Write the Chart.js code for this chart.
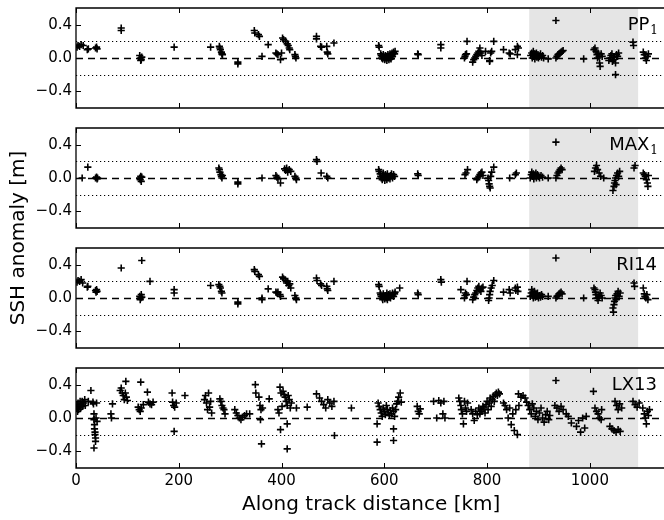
<!DOCTYPE html>
<html>
<head>
<meta charset="utf-8">
<script src="https://cdn.jsdelivr.net/npm/chart.js@4.4.1/dist/chart.umd.min.js"></script>
<style>
  body { margin: 0; background: #fff; overflow: hidden; }
  #wrap { position: relative; width: 664px; height: 520px; overflow: hidden; }
  #wrap canvas { position: absolute; left: 0; top: 0; }
</style>
</head>
<body>
<div id="wrap">
  <canvas id="c0" width="672" height="520"></canvas>
  <canvas id="c1" width="672" height="520"></canvas>
  <canvas id="c2" width="672" height="520"></canvas>
  <canvas id="c3" width="672" height="520"></canvas>
</div>
<script>
// axis settings
const xMax = 1149;
const xTicks = [0, 200, 400, 600, 800, 1000];
const yTicks = [-0.4, 0, 0.4];
const refLevels = [-0.2, 0.2];
const shadeRange = [882, 1094];
const panelNames = ['PP', 'MAX', 'RI14', 'LX13'];
const panelSubs = ['1', '1', '', ''];

// [along track distance km, SSH anomaly m]
const pp1 = [[2,0.13],[4,0.15],[7,0.14],[10,0.16],[14,0.15],[22,0.10],[24,0.11],[38,0.12],[40,0.13],[41,0.11],
  [88,0.36],[88,0.33],[124,0.03],[126,0.0],[127,-0.02],[128,0.01],[126,-0.03],[191,0.13],[262,0.13],
  [279,0.14],[280,0.12],[281,0.10],[283,0.07],[284,0.05],[285,0.04],[315,-0.05],[315,-0.07],
  [347,0.33],[348,0.30],[355,0.28],[357,0.26],[362,0.02],[374,0.16],[389,0.06],[391,0.05],[393,0.04],[398,-0.02],[400,0.06],
  [402,0.24],[404,0.22],[408,0.20],[411,0.17],[413,0.15],[415,0.12],[416,0.10],[426,0.04],[427,0.02],[428,0.0],
  [468,0.26],[468,0.23],[476,0.14],[478,0.13],[488,0.14],[489,0.07],[490,0.05],[502,0.18],
  [589,0.15],[590,0.13],[593,0.05],[594,0.03],[595,0.0],[596,0.02],[597,-0.01],[598,0.04],[600,0.01],[601,-0.02],
  [602,0.03],[603,0.0],[604,0.02],[605,-0.03],[606,0.01],[607,0.04],[608,0.0],[609,-0.02],[610,0.02],[611,0.05],
  [612,0.0],[613,-0.01],[614,0.03],[615,0.06],[616,0.02],[618,0.07],[620,0.05],[621,0.08],
  [665,0.05],[666,0.04],[710,0.16],[710,0.12],[756,0.0],[757,0.02],[758,0.04],[760,0.05],[761,0.2],
  [772,-0.05],[774,-0.02],[776,0.0],[778,0.02],[780,0.04],[782,0.06],[784,0.08],[786,0.12],[788,0.06],[790,0.03],
  [797,0.08],[805,-0.03],[805,-0.04],[807,0.06],[809,0.08],[813,0.2],[832,0.10],[843,0.06],[845,0.05],
  [855,0.10],[859,0.04],[859,0.14],[861,0.12],
  [885,0.03],[887,0.06],[888,0.0],[889,0.04],[890,0.08],[891,0.02],[892,0.05],[893,-0.01],[895,0.03],[896,0.06],
  [897,0.01],[899,0.04],[900,0.0],[902,0.02],[904,0.05],[906,0.01],[908,0.03],[910,0.0],[919,-0.01],[934,0.45],
  [934,0.0],[936,0.02],[938,0.04],[940,0.05],[942,0.06],[944,0.07],[946,0.08],[948,0.09],[988,-0.01],
  [1008,0.1],[1010,0.12],[1012,0.08],[1014,0.04],[1015,0.0],[1016,0.06],[1018,0.02],[1019,-0.06],[1020,-0.1],[1022,0.05],[1024,0.02],
  [1037,-0.03],[1039,0.0],[1041,0.03],[1043,0.05],[1044,-0.04],[1046,-0.02],[1048,0.01],[1050,-0.2],[1050,-0.06],
  [1052,0.04],[1054,0.02],[1056,0.06],[1084,0.19],[1085,0.15],[1104,0.07],[1106,0.04],[1108,0.0],[1110,-0.03],[1112,0.02],[1114,0.05]];

const max1 = [[12,0.0],[23,0.13],[38,0.0],[40,0.01],[41,-0.01],[42,0.0],[124,0.0],[125,-0.02],[126,0.02],[127,-0.04],[128,0.01],
  [278,0.12],[279,0.10],[280,0.07],[282,0.04],[283,0.02],[284,0.0],[285,0.03],[315,-0.07],[315,-0.05],[362,0.0],
  [389,0.03],[391,0.01],[393,-0.01],[398,-0.06],[406,0.11],[408,0.09],[410,0.12],[412,0.07],[415,0.1],[418,0.08],
  [426,0.02],[428,0.0],[429,-0.02],[468,0.22],[469,0.2],[477,0.06],[488,0.02],[490,0.0],
  [589,0.1],[590,0.08],[592,0.05],[593,0.02],[594,0.0],[596,-0.02],[597,0.03],[598,0.06],[600,0.0],[601,-0.03],
  [602,0.04],[604,0.01],[605,-0.02],[606,0.05],[608,0.0],[609,0.02],[611,-0.01],[612,0.03],[614,0.05],[616,0.0],[618,0.04],[620,0.02],
  [665,0.05],[666,0.03],[757,0.04],[759,0.06],[762,0.1],
  [780,-0.02],[782,0.0],[784,0.02],[786,0.04],[788,0.06],[790,0.07],[792,0.03],
  [802,0.0],[803,-0.03],[804,-0.07],[805,-0.1],[806,-0.12],[807,0.02],[809,0.07],[813,0.13],[844,0.0],[855,0.04],[857,0.06],
  [884,0.0],[886,0.04],[887,0.07],[889,0.02],[890,0.05],[891,-0.01],[893,0.03],[895,0.06],[896,0.0],[898,0.04],
  [900,0.02],[902,0.0],[905,0.03],[908,0.01],[919,0.0],[934,0.43],
  [934,0.0],[936,0.03],[938,0.06],[940,0.08],[942,0.1],[944,0.12],[946,0.1],
  [1009,0.08],[1011,0.12],[1013,0.15],[1015,0.1],[1018,0.06],[1021,0.02],[1027,0.0],
  [1045,-0.15],[1047,-0.1],[1048,-0.06],[1049,-0.03],[1050,0.0],[1052,0.03],[1054,0.06],[1051,-0.08],[1056,0.02],[1058,0.08],
  [1086,0.12],[1088,0.15],[1104,0.06],[1106,0.04],[1108,0.02],[1110,-0.02],[1112,-0.06],[1113,-0.1],[1114,0.03]];

const ri14 = [[2,0.19],[4,0.21],[7,0.2],[10,0.22],[13,0.18],[22,0.13],[23,0.14],[38,0.09],[39,0.07],[40,0.1],[41,0.08],
  [88,0.36],[124,0.02],[125,-0.02],[126,0.0],[127,0.04],[128,0.01],[128,0.45],[144,0.2],[191,0.1],[191,0.06],[262,0.15],
  [278,0.16],[280,0.14],[281,0.12],[283,0.08],[284,0.06],[315,-0.05],[315,-0.07],
  [347,0.34],[348,0.32],[355,0.28],[357,0.26],[362,0.0],[362,-0.02],[374,0.11],
  [389,0.07],[391,0.06],[393,0.07],[397,0.04],[398,0.02],
  [402,0.25],[404,0.23],[408,0.21],[410,0.18],[412,0.2],[414,0.15],[416,0.17],[418,0.12],[426,0.03],[428,0.0],[429,-0.02],
  [468,0.24],[469,0.21],[476,0.17],[478,0.15],[488,0.14],[489,0.11],[490,0.09],[502,0.2],
  [589,0.16],[590,0.14],[592,0.06],[593,0.04],[594,0.02],[596,0.0],[597,-0.02],[598,0.05],[600,0.02],[601,-0.01],
  [602,0.03],[604,0.0],[605,0.06],[606,-0.02],[608,0.04],[609,0.01],[611,0.05],[612,0.0],[614,0.03],[616,0.06],
  [618,0.02],[620,0.05],[621,0.07],[630,0.12],[665,0.06],[666,0.04],[710,0.22],[711,0.19],
  [749,0.1],[756,0.0],[757,0.03],[758,0.06],[760,0.04],[761,0.2],
  [772,-0.02],[774,0.01],[776,0.04],[778,0.06],[780,0.09],[782,0.12],[784,0.14],[786,0.1],[788,0.08],[790,0.12],[792,0.13],
  [803,-0.03],[804,0.0],[805,0.04],[806,0.08],[808,0.12],[810,0.15],[813,0.21],
  [832,0.07],[843,0.1],[845,0.06],[855,0.12],[856,0.09],[859,0.13],[860,0.08],
  [884,0.02],[886,0.06],[887,0.1],[888,0.03],[889,0.07],[890,0.0],[891,0.04],[892,0.08],[894,0.01],[895,0.05],
  [897,0.02],[898,0.06],[900,0.0],[902,0.03],[904,0.01],[906,0.04],[908,0.02],[919,0.02],[934,0.48],
  [934,0.0],[936,0.02],[938,0.03],[940,0.05],[942,0.06],[944,0.07],[946,0.05],[988,0.0],
  [1008,0.12],[1010,0.1],[1011,0.07],[1012,0.04],[1014,0.0],[1016,-0.03],[1018,0.02],[1020,0.06],[1022,0.03],[1024,0.0],
  [1045,-0.12],[1046,-0.17],[1047,-0.08],[1048,-0.04],[1049,0.0],[1050,0.03],[1051,-0.02],[1053,0.05],[1055,0.08],[1057,0.02],[1059,0.06],
  [1086,0.18],[1087,0.14],[1104,0.12],[1106,0.05],[1107,0.02],[1109,0.0],[1111,0.04],[1113,-0.02]];

const lx13 = [[1,0.12],[2,0.16],[3,0.08],[4,0.18],[5,0.1],[6,0.14],[8,0.2],[9,0.12],[10,0.16],[12,0.2],[13,0.14],[15,0.18],[17,0.22],[18,0.15],
  [24,0.2],[29,0.33],[33,0.19],[34,0.17],[35,0.05],[35,-0.02],[36,-0.08],[36,-0.13],[37,-0.17],[37,-0.2],[38,-0.24],[38,-0.28],
  [35,-0.36],[39,0.0],[40,0.18],[41,-0.04],[68,0.05],[69,0.0],[71,0.17],
  [86,0.33],[88,0.36],[90,0.3],[92,0.27],[94,0.22],[96,0.3],[98,0.25],[100,0.21],[97,0.44],
  [121,0.13],[123,0.1],[125,0.08],[127,0.12],[126,0.43],[131,0.16],[139,0.31],[141,0.19],[144,0.17],[147,0.16],[150,0.19],
  [187,0.3],[188,0.19],[190,0.15],[192,0.13],[195,0.18],[191,-0.16],[212,0.27],
  [250,0.22],[252,0.27],[254,0.18],[256,0.1],[258,0.3],[260,0.13],[262,0.2],[264,0.06],
  [280,0.23],[282,0.2],[284,0.15],[286,0.12],[288,0.1],[290,0.05],
  [309,0.1],[312,0.06],[315,0.03],[318,0.0],[321,-0.02],[324,0.01],[328,0.03],[332,0.05],[338,0.05],
  [349,0.4],[350,0.3],[356,0.25],[358,0.15],[360,0.1],[363,0.12],[359,-0.02],[361,-0.31],[376,0.23],
  [393,0.1],[395,0.06],[397,0.37],[399,0.3],[401,0.14],[398,-0.14],[411,-0.07],[411,-0.37],
  [403,0.32],[405,0.28],[407,0.25],[409,0.2],[411,0.15],[413,0.27],[415,0.22],[417,0.12],[419,0.18],
  [429,0.12],[450,0.13],[468,0.29],[474,0.24],[478,0.2],[482,0.16],[486,0.12],[490,0.22],[494,0.18],[498,0.14],[502,0.2],[503,-0.21],
  [536,0.12],[586,-0.29],[586,-0.07],
  [588,0.18],[590,0.14],[592,0.1],[594,0.06],[596,0.02],[598,0.12],[600,0.08],[602,0.04],[604,0.15],[606,0.1],
  [608,0.06],[610,0.03],[612,0.09],[614,0.05],[616,0.12],[618,0.08],[620,0.02],[622,0.1],[624,0.17],
  [618,-0.13],[618,-0.27],[626,0.2],[628,0.25],[631,0.3],[633,0.19],
  [664,0.14],[666,0.08],[668,0.05],[670,0.11],[696,0.2],[702,0.0],[706,0.21],[710,0.18],[714,0.05],[716,0.2],[718,0.0],
  [745,0.24],[747,0.2],[749,0.15],[750,0.1],[752,0.05],[754,-0.07],[756,0.2],[758,0.12],[760,0.08],[762,0.18],
  [769,0.1],[772,0.05],[775,-0.03],[778,0.08],[781,0.04],[784,0.12],
  [786,0.05],[788,0.1],[790,0.08],[792,0.14],[794,0.12],[796,0.06],[798,0.16],[800,0.2],[802,0.1],[804,0.18],
  [806,0.24],[808,0.14],[810,0.22],[812,0.26],[814,0.2],[816,0.28],[818,0.3],[820,0.27],[822,0.31],[824,0.29],
  [832,0.18],[835,0.15],[838,0.1],[841,0.0],[844,0.12],[847,-0.08],[850,0.05],[853,-0.15],[856,0.1],[859,-0.2],[862,0.15],
  [861,0.29],[866,0.25],[870,0.27],[874,0.24],
  [877,0.19],[880,0.15],[883,0.1],[886,0.05],[888,0.17],[891,0.12],[894,0.02],[896,0.08],[899,-0.02],[902,0.06],
  [905,0.12],[908,0.0],[911,-0.05],[914,0.04],[917,0.08],[920,-0.02],[922,0.03],
  [934,0.45],[932,0.15],[936,0.12],[940,0.08],[944,0.14],[948,0.1],[954,0.05],[958,0.02],[964,-0.06],
  [974,-0.1],[978,-0.03],[982,-0.17],[986,0.0],[990,-0.12],[993,0.02],
  [1007,0.32],[1010,0.12],[1013,0.08],[1016,0.05],[1019,0.0],[1022,-0.02],[1023,0.1],
  [1039,-0.1],[1043,-0.13],[1047,-0.15],[1051,-0.17],[1055,-0.14],[1059,-0.16],
  [1049,0.2],[1052,0.15],[1055,0.1],[1058,0.17],[1062,0.12],
  [1084,0.2],[1088,0.16],[1092,0.13],[1096,0.18],
  [1103,0.12],[1106,0.05],[1108,0.0],[1110,-0.07],[1112,0.08],[1114,0.03],[1116,0.1]];

const panels = [pp1, max1, ri14, lx13];
const panelTop = [8, 128, 248, 368];
const panelHeight = 100;
const plotLeft = 76;

Chart.defaults.font.family = '"DejaVu Sans", sans-serif';
Chart.defaults.color = '#000';

function hline(ctx, x0, x1, y) {
  ctx.beginPath(); ctx.moveTo(x0, y); ctx.lineTo(x1, y); ctx.stroke();
}
function vline(ctx, x, y0, y1) {
  ctx.beginPath(); ctx.moveTo(x, y0); ctx.lineTo(x, y1); ctx.stroke();
}

// shading, reference lines, frame, inward ticks and panel label
const decor = {
  id: 'decor',
  beforeDatasetsDraw(chart) {
    const {ctx, chartArea: a, scales: {x, y}} = chart;
    ctx.save();
    ctx.beginPath(); ctx.rect(a.left, a.top, a.width, a.height); ctx.clip();
    const s0 = x.getPixelForValue(shadeRange[0]), s1 = x.getPixelForValue(shadeRange[1]);
    ctx.fillStyle = '#e5e5e5';
    ctx.fillRect(s0, a.top, s1 - s0, a.height);
    ctx.strokeStyle = '#000';
    ctx.lineWidth = 1.2;
    ctx.setLineDash([1.2, 2.8]);
    refLevels.forEach(v => hline(ctx, a.left, a.right, Math.round(y.getPixelForValue(v)) + 0.5));
    ctx.setLineDash([7, 5]);
    ctx.lineWidth = 1.4;
    hline(ctx, a.left, a.right, Math.round(y.getPixelForValue(0)) + 0.5);
    ctx.restore();
  },
  afterDatasetsDraw(chart, args, opts) {
    const {ctx, chartArea: a, scales: {x, y}} = chart;
    ctx.save();
    ctx.strokeStyle = '#000';
    ctx.lineWidth = 1;
    xTicks.forEach(v => {
      const px = Math.round(x.getPixelForValue(v)) + 0.5;
      vline(ctx, px, a.top, a.top + 5);
      vline(ctx, px, a.bottom, a.bottom - 5);
    });
    yTicks.forEach(v => {
      const py = Math.round(y.getPixelForValue(v)) + 0.5;
      hline(ctx, a.left, a.left + 5, py);
    });
    ctx.lineWidth = 1.3;
    ctx.beginPath();
    ctx.moveTo(672, a.top); ctx.lineTo(a.left, a.top); ctx.lineTo(a.left, a.bottom); ctx.lineTo(672, a.bottom);
    ctx.stroke();

    // panel label with optional subscript
    const right = 658, base = a.top + 22;
    ctx.fillStyle = '#000';
    ctx.textBaseline = 'alphabetic';
    ctx.textAlign = 'right';
    let subW = 0;
    if (opts.sub) {
      ctx.font = '12px "DejaVu Serif", serif';
      subW = ctx.measureText(opts.sub).width;
      ctx.fillText(opts.sub, right, base + 4);
    }
    ctx.font = '18px "DejaVu Sans", sans-serif';
    ctx.fillText(opts.name, right - subW - 1, base);

    if (opts.last) {
      ctx.save();
      ctx.translate(19, 238);
      ctx.rotate(-Math.PI / 2);
      ctx.textAlign = 'center';
      ctx.textBaseline = 'middle';
      ctx.font = '20px "DejaVu Sans", sans-serif';
      ctx.fillText('SSH anomaly [m]', 0, 0);
      ctx.restore();
    }
    ctx.restore();
  }
};

function fmt(v) {
  if (v === 0) return '0.0';
  return (v < 0 ? '\u2212' : '') + Math.abs(v).toFixed(1);
}

panels.forEach((pts, i) => {
  const last = i === panels.length - 1;
  const top = panelTop[i];
  const chart = new Chart(document.getElementById('c' + i), {
    type: 'scatter',
    data: {
      datasets: [{
        data: pts.map(p => ({x: p[0], y: p[1]})),
        pointStyle: 'cross',
        pointRadius: 3.6,
        pointBorderWidth: 1.6,
        borderColor: '#000',
        backgroundColor: '#000'
      }]
    },
    options: {
      responsive: false,
      animation: false,
      events: [],
      layout: {padding: {top: top, bottom: last ? 0 : 520 - top - panelHeight, left: 0, right: 0}},
      plugins: {
        legend: {display: false},
        tooltip: {enabled: false},
        decor: {name: panelNames[i], sub: panelSubs[i], last: last}
      },
      scales: {
        x: {
          type: 'linear',
          min: 0,
          max: xMax,
          grid: {display: false, drawTicks: false},
          border: {display: false},
          afterBuildTicks: s => { s.ticks = xTicks.map(v => ({value: v})); },
          afterFit: s => { s.height = last ? 52 : 0; },
          ticks: {display: last, font: {size: 15}, padding: 4, maxRotation: 0, callback: v => String(v)},
          title: {
            display: last,
            text: 'Along track distance [km]',
            font: {size: 20},
            padding: {top: 0, bottom: 3}
          }
        },
        y: {
          min: -0.6,
          max: 0.6,
          grid: {display: false, drawTicks: false},
          border: {display: false},
          afterBuildTicks: s => { s.ticks = yTicks.map(v => ({value: v})); },
          afterFit: s => { s.paddingTop = 0; s.paddingBottom = 0; },
          ticks: {font: {size: 15}, padding: 4, callback: v => fmt(v)}
        }
      }
    },
    plugins: [decor]
  });
  // push the plot area so its left edge sits where the figure has it
  const dx = plotLeft - chart.chartArea.left;
  if (Math.abs(dx) > 0.2) {
    chart.options.layout.padding.left += dx;
    chart.update();
  }
});
</script>
</body>
</html>
